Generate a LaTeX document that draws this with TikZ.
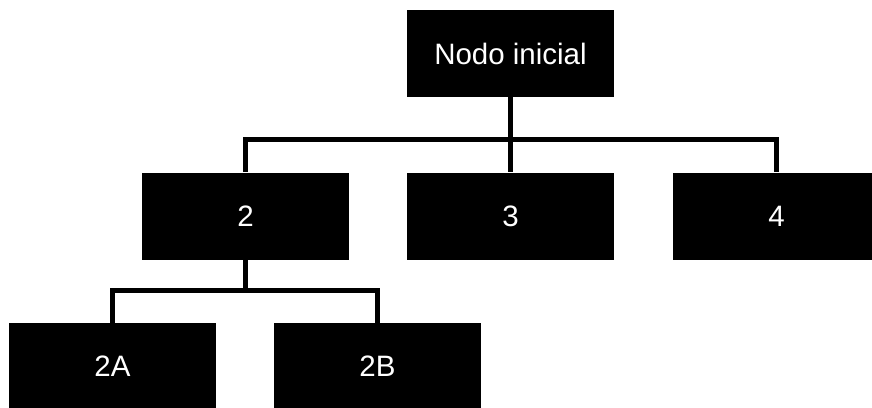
\documentclass[tikz,border=0pt]{standalone}
\usepackage{fontspec}
\setmainfont{Liberation Sans}
\begin{document}
\begin{tikzpicture}[x=1pt,y=-1pt,
  box/.style={rectangle, fill=black, text=white, inner sep=0pt,
    minimum width=207pt, minimum height=87pt,
    font=\fontsize{29.5}{34}\selectfont},
  conn/.style={draw=black, line width=5pt}]
\useasboundingbox (0,0) rectangle (872,407);
\clip (0,0) rectangle (872,407);
\node[box] (n)  at (510.5,53.5) {Nodo inicial};
\node[box] (c2) at (245.5,216) {2};
\node[box] (c3) at (510.5,216) {3};
\node[box] (c4) at (776.5,216) {4};
\node[box] (a)  at (112.5,366.5) {2A};
\node[box] (b)  at (377.5,366.5) {2B};
\coordinate (j1) at (510.5,139.5);
\coordinate (j2) at (245.5,290);
\draw[conn] (n.south) -- (j1);
\draw[conn] (j1) -| (c2.north);
\draw[conn] (j1) -- (c3.north);
\draw[conn] (j1) -| (c4.north);
\draw[conn] (c2.south) -- (j2);
\draw[conn] (j2) -| (a.north);
\draw[conn] (j2) -| (b.north);
\end{tikzpicture}
\end{document}
